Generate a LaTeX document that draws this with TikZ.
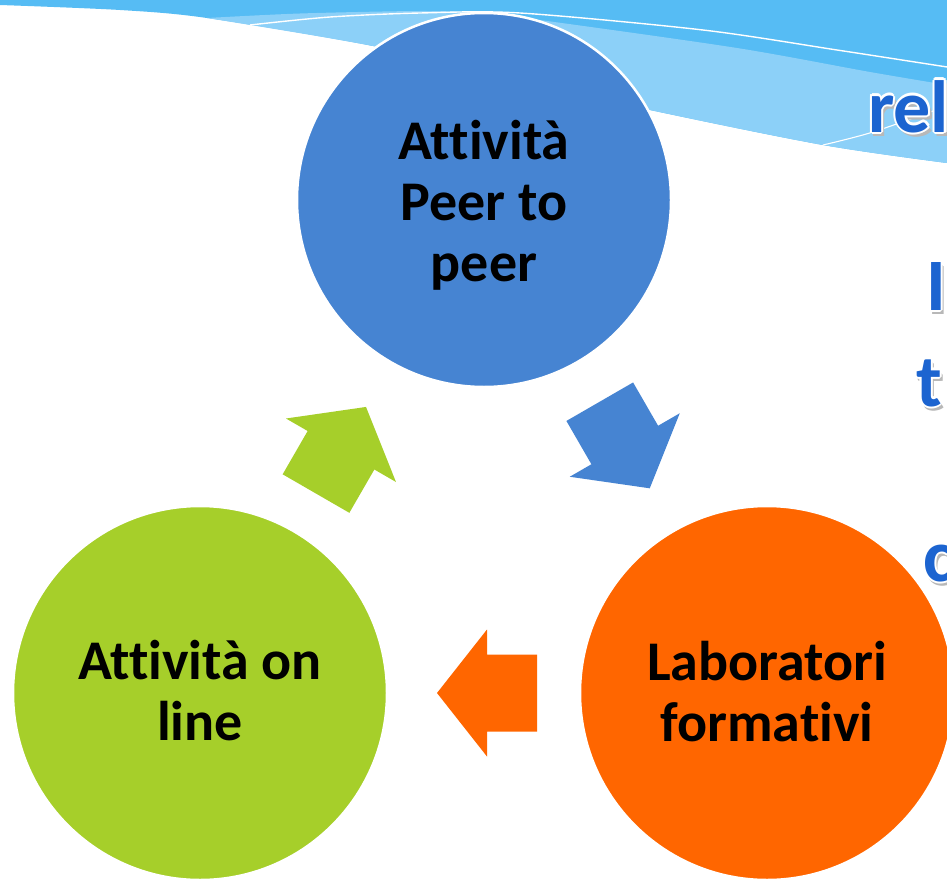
\documentclass[tikz,border=0pt]{standalone}
\usepackage{fontspec}
\setmainfont{Carlito}[Ligatures={NoCommon,NoContextual}, RawFeature={-liga;-clig;-dlig}]
\definecolor{cblue}{RGB}{70,132,210}
\definecolor{cgreen}{RGB}{166,207,42}
\definecolor{corange}{RGB}{255,102,0}
\definecolor{bandblue}{RGB}{86,188,244}
\definecolor{lightband}{RGB}{140,208,248}
\definecolor{tblue}{RGB}{28,100,208}
\tikzset{
  disc/.style={circle, minimum size=374pt, inner sep=0pt, draw=white, line width=2.5pt},
  disctext/.style={font=\fontsize{56}{61}\selectfont\bfseries, align=center, text=black, inner sep=0pt},
  ttext/.style={font=\fontsize{74}{80}\selectfont\bfseries, inner sep=0pt, anchor=base west},
  wline/.style={white, line width=1.4pt}
}
\newcommand\blockarrow[3]{%
  \fill[#3, shift={(#1)}, rotate=#2] (-50,38.5) -- (0,38.5) -- (0,63.5) -- (50,0) -- (0,-63.5) -- (0,-38.5) -- (-50,-38.5) -- cycle;}
\newcommand\glowtext[3]{%
  \foreach \dx/\dy in {2.5/-3.5,3.5/-4.5,1.5/-4}{\node[ttext, text=black!28, xshift=\dx pt, yshift=\dy pt] at (#2) {#3};}
  \foreach \dx/\dy in {2.2/0,-2.2/0,0/2.2,0/-2.2,1.6/1.6,-1.6/1.6,1.6/-1.6,-1.6/-1.6}{\node[ttext, text=white, xshift=\dx pt, yshift=\dy pt] at (#2) {#3};}
  \node[ttext, text=tblue] (#1) at (#2) {#3};}
\begin{document}
\begin{tikzpicture}[x=1pt,y=-1pt]
\useasboundingbox (0,0) rectangle (947,880);
\clip (0,0) rectangle (947,880);
\fill[white] (0,0) rectangle (947,880);
% background waves
\fill[bandblue] (0,0) -- (947,0) -- plot[smooth] coordinates {(947,163) (823,145) (650,110) (510,78) (373,46) (207,18) (120,10) (0,5)} -- cycle;
\fill[lightband] plot[smooth] coordinates {(207,18) (300,13.5) (420,11) (480,13) (547,21) (737,48) (870,72) (947,85)} -- plot[smooth] coordinates {(947,163) (823,145) (650,110) (510,78) (373,46) (207,18)} -- cycle;
\draw[wline] plot[smooth] coordinates {(250,25) (330,17) (420,13) (520,13) (703,30) (837,50) (947,67)};
\draw[wline, line width=1.1pt] plot[smooth] coordinates {(823,145) (873,132) (947,106)};
% right-hand text
\glowtext{title}{868,132}{rel}
\glowtext{lineI}{926,310}{I}
\glowtext{lineT}{916,406}{t}
\glowtext{lineC}{923,581}{c}
% cycle
\node[disc, fill=cblue] (peer) at (484,200) {};
\node[disc, fill=cgreen] (online) at (200,693) {};
\node[disc, fill=corange] (lab) at (767,693) {};
\node[disctext] (peertxt) at (484,205) {Attività\\Peer to\\peer};
\node[disctext] (onlinetxt) at (200,691) {Attività on\\line};
\node[disctext] (labtxt) at (767,692) {Laboratori\\formativi};
\blockarrow{624.75,445}{-60}{cblue}
\blockarrow{487,693}{180}{corange}
\blockarrow{341,450.25}{60}{cgreen}
\end{tikzpicture}
\end{document}
